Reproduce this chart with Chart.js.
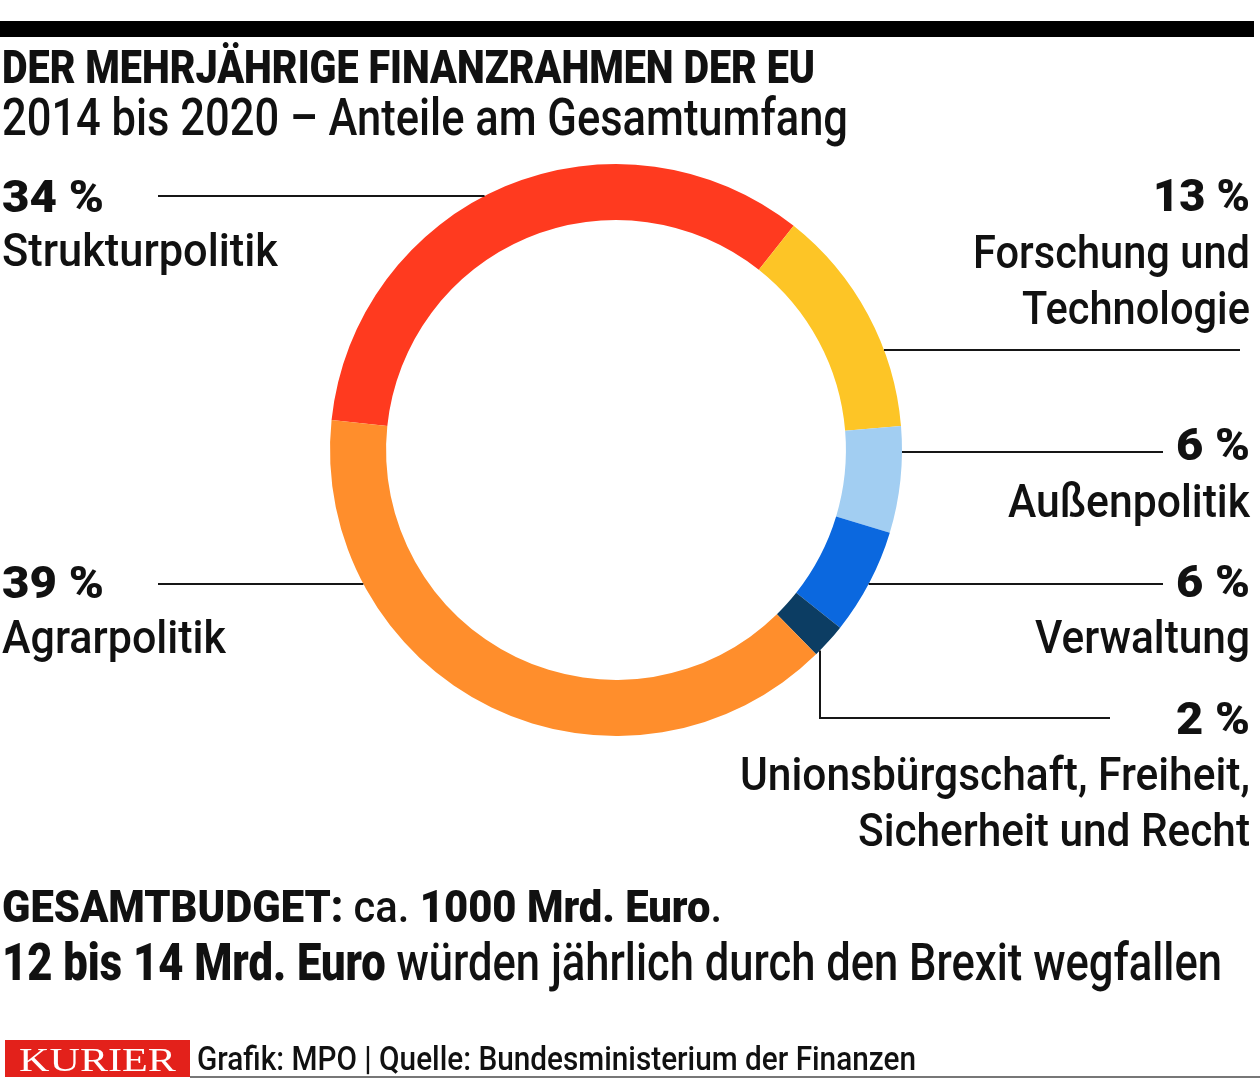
<!DOCTYPE html>
<html><head><meta charset="utf-8">
<script src="https://cdn.jsdelivr.net/npm/chart.js@4.4.0/dist/chart.umd.min.js"></script>
<style>
html,body{margin:0;padding:0;background:#fff;}
#wrap{position:relative;width:1260px;height:1080px;overflow:hidden;background:#fff;}
#c{position:absolute;left:0;top:0;}
#ov{position:absolute;left:0;top:0;}
#ov text{font-family:'Liberation Sans Narrow','Roboto',sans-serif;fill:#111;font-weight:500;}
#ov .b{font-weight:900;}
</style></head><body>
<div id="wrap">
<canvas id="c" width="1260" height="1080"></canvas>
<svg id="ov" width="1260" height="1080" xmlns="http://www.w3.org/2000/svg"></svg>
</div>
<script>
// ---- data ----
const categories = ['Strukturpolitik','Forschung und Technologie','Außenpolitik','Verwaltung','Unionsbürgschaft, Freiheit, Sicherheit und Recht','Agrarpolitik'];
const shares = [34, 13, 6, 6, 2, 39];
const colors = ['#FF3A1F','#FDC526','#A2CEF2','#0B68DF','#0C3D63','#FF8E2C'];
const labelLines = [['Strukturpolitik'],['Forschung und','Technologie'],['Außenpolitik'],['Verwaltung'],['Unionsbürgschaft, Freiheit,','Sicherheit und Recht'],['Agrarpolitik']];
const titleText = 'DER MEHRJÄHRIGE FINANZRAHMEN DER EU';
const subtitleText = '2014 bis 2020 – Anteile am Gesamtumfang';
const budgetParts = [['GESAMTBUDGET:',true],[' ca. ',false],['1000 Mrd. Euro',true],['.',false]];
const brexitParts = [['12 bis 14 Mrd. Euro',true],[' würden jährlich durch den Brexit wegfallen',false]];
const brandText = 'KURIER';
const sourceText = 'Grafik: MPO | Quelle: Bundesministerium der Finanzen';

// ---- layout (positions only) ----
const RIGHT_EDGE = 1250, LEFT_EDGE = 2, LEFT_LINE_END = 158;
const layout = [
  {side:'L', lineY:196, pctBase:212, pctW:102, lines:[[266,276]]},
  {side:'R', lineY:350, lineEnd:1240, pctBase:211, pctW:97, lines:[[268,277],[324,228]]},
  {side:'R', lineY:452, lineEnd:1163, pctBase:460, pctW:74, lines:[[517,242]]},
  {side:'R', lineY:584, lineEnd:1163, pctBase:597, pctW:74, lines:[[653,215]]},
  {side:'R', lineY:718, lineEnd:1110, elbow:0.85, pctBase:734, pctW:74, lines:[[790,510],[846,392]]},
  {side:'L', lineY:584, pctBase:598, pctW:102, lines:[[653,224]]}
];

const leaderPlugin = {
  id:'leaders',
  afterDatasetsDraw(chart){
    const ctx = chart.ctx;
    const meta = chart.getDatasetMeta(0);
    ctx.save();
    ctx.strokeStyle = '#161616';
    ctx.lineWidth = 2;
    meta.data.forEach((arc, i) => {
      const L = layout[i];
      const p = arc.getProps(['x','y','outerRadius','startAngle','endAngle'], true);
      ctx.beginPath();
      if (L.elbow) {
        const a = p.startAngle + L.elbow * (p.endAngle - p.startAngle);
        const px = Math.round(p.x + p.outerRadius * Math.cos(a));
        const py = p.y + p.outerRadius * Math.sin(a);
        ctx.moveTo(px, py);
        ctx.lineTo(px, L.lineY);
        ctx.lineTo(L.lineEnd, L.lineY);
      } else {
        const dx = Math.sqrt(Math.max(p.outerRadius*p.outerRadius - (L.lineY - p.y)*(L.lineY - p.y), 0));
        const x0 = L.side === 'L' ? p.x - dx : p.x + dx;
        ctx.moveTo(x0, L.lineY);
        ctx.lineTo(L.side === 'L' ? LEFT_LINE_END : L.lineEnd, L.lineY);
      }
      ctx.stroke();
    });
    ctx.restore();
  }
};

new Chart(document.getElementById('c'), {
  type:'doughnut',
  data:{ labels:categories, datasets:[{ data:shares, backgroundColor:colors, borderWidth:0, hoverOffset:0 }] },
  options:{
    responsive:false, animation:false, rotation:-84, cutout:'80.4%',
    layout:{ padding:{left:330, right:358, top:164, bottom:344} },
    plugins:{ legend:{display:false}, tooltip:{enabled:false} }
  },
  plugins:[leaderPlugin]
});

// ---- text overlay ----
const NS = 'http://www.w3.org/2000/svg';
const svg = document.getElementById('ov');
function addText(parts, x, y, size, width, opts={}){
  const t = document.createElementNS(NS, 'text');
  t.setAttribute('x', x); t.setAttribute('y', y);
  t.setAttribute('font-size', size);
  if (width) { t.setAttribute('textLength', width); t.setAttribute('lengthAdjust', 'spacingAndGlyphs'); }
  if (opts.family) t.style.fontFamily = opts.family;
  if (opts.fill) t.style.fill = opts.fill;
  if (opts.weight) t.style.fontWeight = opts.weight;
  parts.forEach(([s, bold]) => {
    const sp = document.createElementNS(NS, 'tspan');
    sp.textContent = s;
    if (bold) sp.setAttribute('class', 'b');
    t.appendChild(sp);
  });
  svg.appendChild(t);
  return t;
}
function addRect(x, y, w, h, fill){
  const r = document.createElementNS(NS, 'rect');
  r.setAttribute('x', x); r.setAttribute('y', y); r.setAttribute('width', w); r.setAttribute('height', h); r.setAttribute('fill', fill);
  svg.appendChild(r);
}

addRect(0, 21, 1254, 16, '#000');
addText([[titleText, true]], LEFT_EDGE, 83, 46, 813);
addText([[subtitleText, false]], LEFT_EDGE, 135, 52, 846);

categories.forEach((c, i) => {
  const L = layout[i];
  const pct = shares[i] + ' %';
  const xp = L.side === 'L' ? LEFT_EDGE : RIGHT_EDGE - L.pctW;
  addText([[pct, true]], xp, L.pctBase, 45, L.pctW);
  labelLines[i].forEach((line, j) => {
    const [base, w] = L.lines[j];
    const xl = L.side === 'L' ? LEFT_EDGE : RIGHT_EDGE - w;
    addText([[line, false]], xl, base, 47, w);
  });
});

addText(budgetParts, LEFT_EDGE, 922, 45, 720);
addText(brexitParts, LEFT_EDGE, 980, 51, 1220);

addRect(5, 1040, 185, 37, '#E3211B');
addText([[brandText, false]], 19, 1071, 33, 157, {family:"'Liberation Serif','DejaVu Serif',serif", fill:'#fff', weight:400});
addText([[sourceText, false]], 197, 1070, 33, 719);
addRect(190, 1076, 1070, 2, '#777');
</script>
</body></html>
